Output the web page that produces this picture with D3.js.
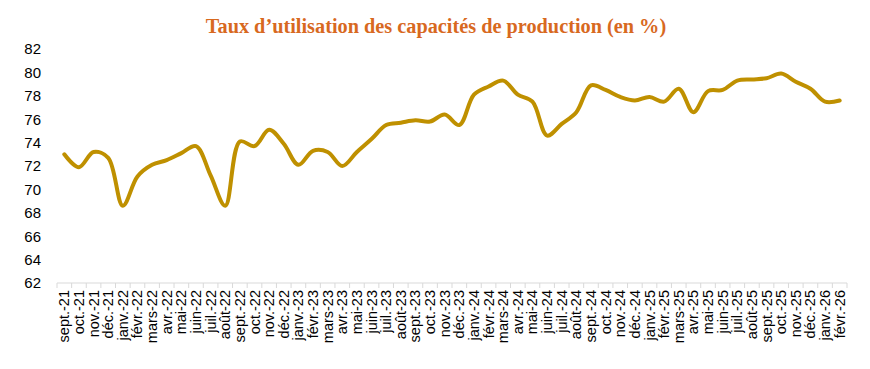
<!DOCTYPE html>
<html><head><meta charset="utf-8">
<script src="https://cdn.jsdelivr.net/npm/d3@7"></script>
<style>body{margin:0;background:#fff}svg{display:block}</style>
</head><body><svg id="c" width="870" height="369"></svg>
<script>
const categories = ["sept.-21","oct.-21","nov.-21","déc.-21","janv.-22","févr.-22","mars-22","avr.-22","mai-22","juin-22","juil.-22","août-22","sept.-22","oct.-22","nov.-22","déc.-22","janv.-23","févr.-23","mars-23","avr.-23","mai-23","juin-23","juil.-23","août-23","sept.-23","oct.-23","nov.-23","déc.-23","janv.-24","févr.-24","mars-24","avr.-24","mai-24","juin-24","juil.-24","août-24","sept.-24","oct.-24","nov.-24","déc.-24","janv.-25","févr.-25","mars-25","avr.-25","mai-25","juin-25","juil.-25","août-25","sept.-25","oct.-25","nov.-25","déc.-25","janv.-26","févr.-26"];
const values = [73.0,71.9,73.2,72.7,68.6,71.1,72.1,72.5,73.1,73.7,71.2,68.6,74.1,73.7,75.1,73.9,72.1,73.3,73.2,72.0,73.2,74.3,75.5,75.7,75.9,75.8,76.4,75.5,78.1,78.8,79.3,78.1,77.5,74.6,75.6,76.6,78.9,78.5,77.9,77.6,77.9,77.5,78.6,76.6,78.4,78.5,79.3,79.4,79.5,79.9,79.2,78.6,77.5,77.6];
const yTicks = [62,64,66,68,70,72,74,76,78,80,82];
const title = "Taux d’utilisation des capacités de production (en %)";

const svg = d3.select("#c");
const m = {left:57, right:847, top:49, bottom:283};
const x = d3.scaleBand().domain(categories).range([m.left, m.right]).padding(0);
const y = d3.scaleLinear().domain([62,82]).range([m.bottom, m.top]);

svg.append("text").attr("x",436).attr("y",33).attr("text-anchor","middle")
  .attr("font-family","'Liberation Serif', 'DejaVu Serif', serif").attr("font-weight","bold")
  .attr("font-size",20.3).attr("fill","#D8691F").text(title);

// y axis labels
const ya = svg.append("g").attr("transform",`translate(${m.left},0)`)
  .call(d3.axisLeft(y).tickValues(yTicks).tickSize(0).tickPadding(16));
ya.select(".domain").remove();
ya.selectAll("text").attr("font-family","'Liberation Sans', Arial, sans-serif").attr("font-size",15).attr("fill","#000");

// x axis with ticks between categories
const xg = svg.append("g").attr("transform",`translate(0,${m.bottom})`);
xg.append("line").attr("x1",m.left).attr("x2",m.right).attr("y1",0).attr("y2",0).attr("stroke","#D9D9D9").attr("stroke-width",1);
const bounds = categories.map(c=>x(c)).concat([m.right]);
xg.selectAll("line.tk").data(bounds).join("line").attr("class","tk")
  .attr("x1",d=>d).attr("x2",d=>d).attr("y1",0).attr("y2",5).attr("stroke","#D9D9D9");
xg.selectAll("text").data(categories).join("text")
  .attr("transform",d=>`translate(${x(d)+x.bandwidth()/2+5},7) rotate(-90)`)
  .attr("text-anchor","end")
  .attr("font-family","'Liberation Sans', Arial, sans-serif").attr("font-size",14.5).attr("fill","#000")
  .text(d=>d);

const line = d3.line().x((d,i)=>x(categories[i])+x.bandwidth()/2).y(d=>y(d)).curve(d3.curveCatmullRom.alpha(0.5));
svg.append("path").datum(values).attr("d",line).attr("fill","none")
  .attr("stroke","#BF9000").attr("stroke-width",4).attr("stroke-linecap","round").attr("stroke-linejoin","round");
</script></body></html>
